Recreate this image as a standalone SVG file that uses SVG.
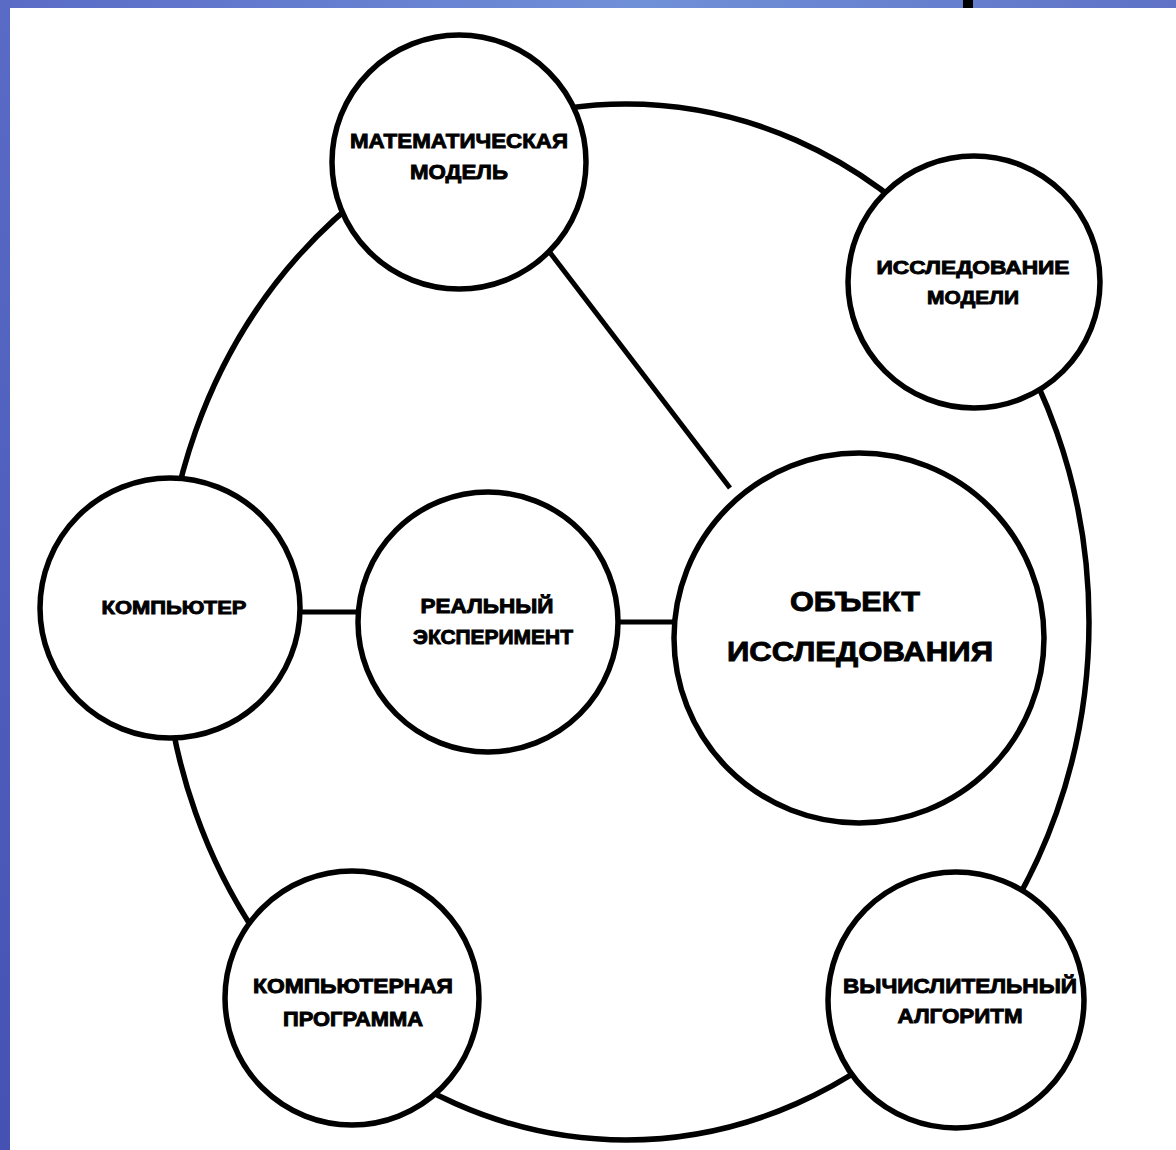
<svg xmlns="http://www.w3.org/2000/svg" width="1176" height="1150" viewBox="0 0 1176 1150">
  <defs>
    <linearGradient id="topBar" x1="0" y1="0" x2="1" y2="0">
      <stop offset="0" stop-color="#5a6bc6"/>
      <stop offset="0.55" stop-color="#7090d8"/>
      <stop offset="1" stop-color="#5f72c6"/>
    </linearGradient>
    <linearGradient id="sideBar" x1="0" y1="0" x2="0" y2="1">
      <stop offset="0" stop-color="#5a6bc6"/>
      <stop offset="1" stop-color="#4552b4"/>
    </linearGradient>
    <style>
      .ring { fill: none; stroke: #000; stroke-width: 5.5; }
      .node { fill: #fff; stroke: #000; stroke-width: 5.5; }
      .link { stroke: #000; stroke-width: 5; fill: none; }
      .lbl { font-family: "Liberation Sans", Arial, sans-serif; font-weight: bold; fill: #000; stroke: #000; stroke-width: 0.9; text-anchor: middle; }
    </style>
  </defs>

  <rect width="1176" height="1150" fill="#fff"/>
  <!-- slide frame -->
  <rect x="0" y="0" width="1176" height="8" fill="url(#topBar)"/>
  <rect x="0" y="0" width="10" height="1150" fill="url(#sideBar)"/>
  <rect x="963" y="0" width="10" height="8" fill="#000"/>

  <!-- connectors -->
  <g id="connectors">
    <ellipse class="ring" cx="626" cy="622" rx="463" ry="518"/>
    <line class="link" x1="548" y1="250" x2="730" y2="488"/>
    <line class="link" x1="298" y1="612" x2="364" y2="612"/>
    <line class="link" x1="614" y1="622" x2="678" y2="622"/>
  </g>

  <g id="math-model">
    <circle class="node" cx="459" cy="162" r="127"/>
    <text class="lbl" x="459" y="148" font-size="21" textLength="218" lengthAdjust="spacingAndGlyphs">МАТЕМАТИЧЕСКАЯ</text>
    <text class="lbl" x="459" y="179" font-size="21" textLength="98" lengthAdjust="spacingAndGlyphs">МОДЕЛЬ</text>
  </g>

  <g id="model-study">
    <circle class="node" cx="974" cy="282" r="126"/>
    <text class="lbl" x="973" y="274" font-size="19" textLength="193" lengthAdjust="spacingAndGlyphs">ИССЛЕДОВАНИЕ</text>
    <text class="lbl" x="973" y="304" font-size="19" textLength="92" lengthAdjust="spacingAndGlyphs">МОДЕЛИ</text>
  </g>

  <g id="computer">
    <circle class="node" cx="170" cy="608" r="130"/>
    <text class="lbl" x="174" y="614" font-size="19" textLength="145" lengthAdjust="spacingAndGlyphs">КОМПЬЮТЕР</text>
  </g>

  <g id="real-experiment">
    <circle class="node" cx="488" cy="622" r="130"/>
    <text class="lbl" x="487" y="613" font-size="20" textLength="133" lengthAdjust="spacingAndGlyphs">РЕАЛЬНЫЙ</text>
    <text class="lbl" x="493" y="644" font-size="20" textLength="160" lengthAdjust="spacingAndGlyphs">ЭКСПЕРИМЕНТ</text>
  </g>

  <g id="research-object">
    <circle class="node" cx="859" cy="638" r="185"/>
    <text class="lbl" x="855" y="611" font-size="28" textLength="130" lengthAdjust="spacingAndGlyphs">ОБЪЕКТ</text>
    <text class="lbl" x="860" y="661" font-size="28" textLength="266" lengthAdjust="spacingAndGlyphs">ИССЛЕДОВАНИЯ</text>
  </g>

  <g id="computer-program">
    <circle class="node" cx="352" cy="998" r="127"/>
    <text class="lbl" x="353" y="993" font-size="20" textLength="200" lengthAdjust="spacingAndGlyphs">КОМПЬЮТЕРНАЯ</text>
    <text class="lbl" x="353" y="1026" font-size="20" textLength="140" lengthAdjust="spacingAndGlyphs">ПРОГРАММА</text>
  </g>

  <g id="algorithm">
    <circle class="node" cx="956" cy="1000" r="128"/>
    <text class="lbl" x="960" y="993" font-size="21" textLength="234" lengthAdjust="spacingAndGlyphs">ВЫЧИСЛИТЕЛЬНЫЙ</text>
    <text class="lbl" x="960" y="1023" font-size="21" textLength="125" lengthAdjust="spacingAndGlyphs">АЛГОРИТМ</text>
  </g>
</svg>
